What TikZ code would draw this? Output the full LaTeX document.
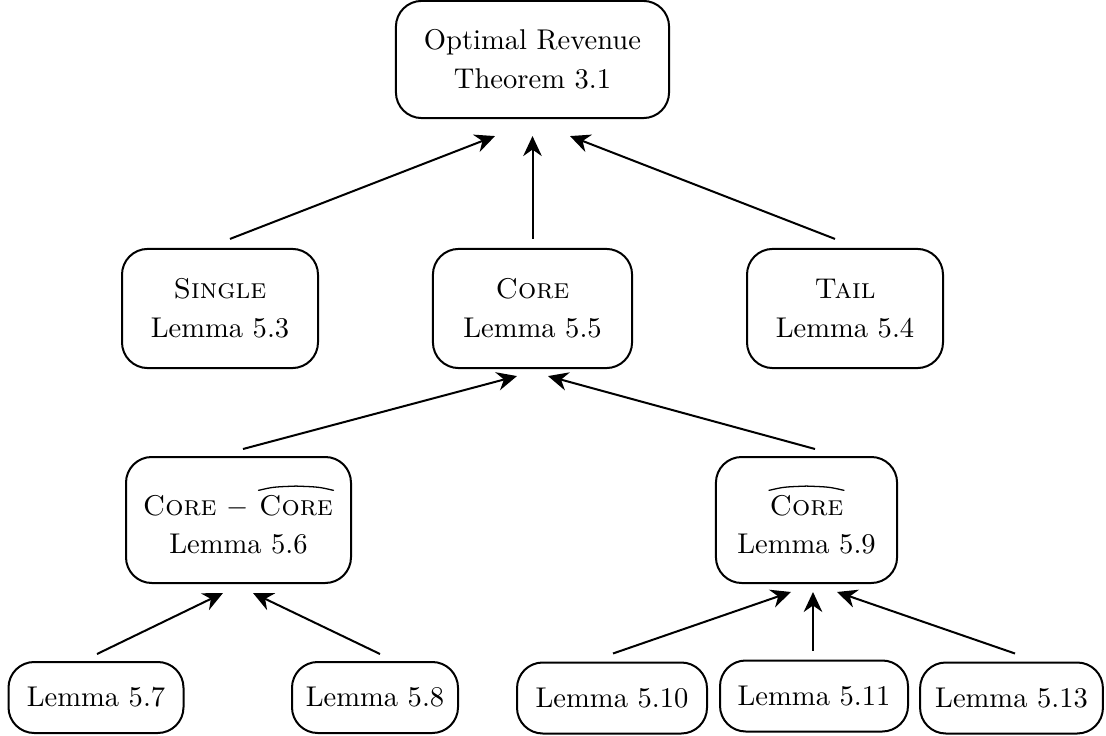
\documentclass[tikz,border=0pt]{standalone}
\usetikzlibrary{arrows.meta}
\newcommand{\hatword}[1]{\tikz[baseline=(hw.base),x=1pt,y=1pt]{\node[inner sep=0pt,minimum width=0pt,minimum height=0pt,draw=none] (hw) {#1};
  \draw[line width=0.45pt, line cap=round, rounded corners=0pt] ([yshift=1.4pt]hw.north west) .. controls ([xshift=-8pt,yshift=2.6pt]hw.north) .. ([yshift=2.9pt]hw.north) .. controls ([xshift=8pt,yshift=2.6pt]hw.north) .. ([yshift=1.4pt]hw.north east);}}
\begin{document}
\begin{tikzpicture}[x=0.35pt,y=-0.35pt,
  box/.style={draw, line width=0.7pt, rounded corners=9pt, align=center, inner sep=0pt,
    font=\fontsize{10}{13.6}\selectfont},
  arr/.style={-{Stealth[length=7pt,width=6.5pt]}, line width=0.7pt}]
\useasboundingbox (0,0) rectangle (1106,736);
\node[box, minimum width=95.6pt, minimum height=41pt] (top) at (532.5,59.5) {Optimal Revenue\\Theorem 3.1};
\node[box, minimum width=68.6pt, minimum height=41.7pt] (single) at (220,308.5) {\textsc{Single}\\Lemma 5.3};
\node[box, minimum width=69.7pt, minimum height=41.7pt] (core) at (532.5,308.5) {\textsc{Core}\\Lemma 5.5};
\node[box, minimum width=68.6pt, minimum height=41.7pt] (tail) at (845,308.5) {\textsc{Tail}\\Lemma 5.4};
\node[box, minimum width=78.75pt, minimum height=44.1pt] (cc) at (238.5,520) {\textsc{Core} $-$ \hatword{\textsc{Core}}\\Lemma 5.6};
\node[box, minimum width=63.4pt, minimum height=44.1pt] (chat) at (806.5,520) {\hatword{\textsc{Core}}\\Lemma 5.9};
\node[box, minimum width=61.25pt, minimum height=24.85pt] (l57) at (96,697.5) {Lemma 5.7};
\node[box, minimum width=58.1pt, minimum height=24.85pt] (l58) at (375,697.5) {Lemma 5.8};
\node[box, minimum width=66.5pt, minimum height=24.85pt] (l510) at (612,698) {Lemma 5.10};
\node[box, minimum width=65.8pt, minimum height=24.85pt] (l511) at (814,696) {Lemma 5.11};
\node[box, minimum width=64pt, minimum height=24.85pt] (l513) at (1011.5,698) {Lemma 5.13};
\draw[arr] ([shift={(10,-9)}]single.north) -- ([shift={(-37.5,17)}]top.south);
\draw[arr] ([shift={(0,-9)}]core.north) -- ([shift={(0,17)}]top.south);
\draw[arr] ([shift={(-10,-9)}]tail.north) -- ([shift={(37.5,17)}]top.south);
\draw[arr] ([shift={(4.5,-7)}]cc.north) -- ([shift={(-15.5,7)}]core.south);
\draw[arr] ([shift={(8.5,-7)}]chat.north) -- ([shift={(15.5,7)}]core.south);
\draw[arr] ([shift={(1,-7)}]l57.north) -- ([shift={(-15.5,9)}]cc.south);
\draw[arr] ([shift={(5,-7)}]l58.north) -- ([shift={(14.5,9)}]cc.south);
\draw[arr] ([shift={(1,-8)}]l510.north) -- ([shift={(-15.5,8)}]chat.south);
\draw[arr] ([shift={(-1,-9)}]l511.north) -- ([shift={(6.5,8)}]chat.south);
\draw[arr] ([shift={(3.5,-8)}]l513.north) -- ([shift={(30.5,8)}]chat.south);
\end{tikzpicture}
\end{document}
